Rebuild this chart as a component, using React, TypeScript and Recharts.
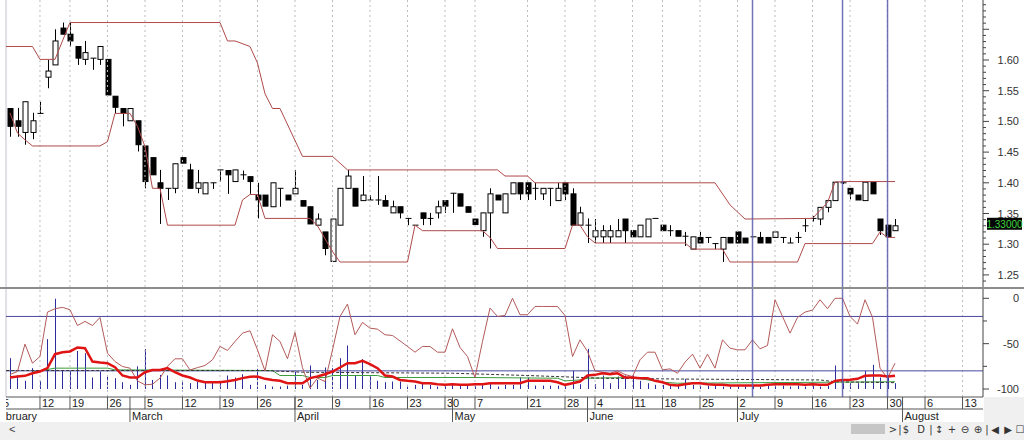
import { Bar, ComposedChart, Line, ReferenceLine, XAxis, YAxis } from 'recharts'

// daily candles, index 0 = first trading day shown (early February)
const OPEN = [
  1.521, 1.501, 1.482, 1.482, 1.513, 1.572, 1.592, 1.652, 1.642, 1.622,
  1.601, 1.603, 1.601, 1.601, 1.541, 1.521, 1.501, 1.501, 1.46, 1.441,
  1.4, 1.391, 1.391, 1.441, 1.421, 1.391, 1.382, 1.4, 1.421, 1.42,
  1.402, 1.413, 1.41, 1.38, 1.38, 1.361, 1.391, 1.38, 1.382, 1.371,
  1.361, 1.331, 1.32, 1.272, 1.331, 1.391, 1.391, 1.371, 1.372, 1.372,
  1.371, 1.351, 1.361, 1.342, 1.331, 1.351, 1.342, 1.351, 1.371, 1.383,
  1.382, 1.361, 1.341, 1.322, 1.351, 1.38, 1.351, 1.382, 1.4, 1.4,
  1.391, 1.382, 1.391, 1.371, 1.4, 1.382, 1.331, 1.331, 1.312, 1.312,
  1.312, 1.312, 1.341, 1.322, 1.312, 1.312, 1.342, 1.331, 1.322, 1.322,
  1.313, 1.292, 1.311, 1.311, 1.301, 1.292, 1.311, 1.32, 1.31, 1.312,
  1.311, 1.311, 1.311, 1.311, 1.302, 1.311, 1.33, 1.342, 1.341, 1.36,
  1.371, 1.4, 1.391, 1.38, 1.371, 1.401, 1.341, 1.331, 1.322,
]
const HIGH = [
  1.521, 1.522, 1.532, 1.514, 1.532, 1.6, 1.65, 1.661, 1.661, 1.622,
  1.631, 1.603, 1.622, 1.601, 1.541, 1.521, 1.521, 1.501, 1.46, 1.441,
  1.421, 1.391, 1.431, 1.441, 1.431, 1.421, 1.4, 1.4, 1.421, 1.42,
  1.421, 1.42, 1.41, 1.4, 1.38, 1.4, 1.391, 1.38, 1.421, 1.371,
  1.361, 1.35, 1.32, 1.341, 1.391, 1.421, 1.391, 1.411, 1.38, 1.411,
  1.38, 1.371, 1.361, 1.342, 1.331, 1.351, 1.351, 1.371, 1.371, 1.383,
  1.382, 1.361, 1.341, 1.351, 1.391, 1.38, 1.382, 1.4, 1.4, 1.4,
  1.4, 1.391, 1.391, 1.4, 1.4, 1.391, 1.361, 1.342, 1.341, 1.331,
  1.331, 1.341, 1.341, 1.322, 1.331, 1.341, 1.342, 1.331, 1.331, 1.322,
  1.32, 1.312, 1.32, 1.311, 1.301, 1.311, 1.311, 1.32, 1.31, 1.312,
  1.32, 1.311, 1.32, 1.311, 1.311, 1.32, 1.341, 1.346, 1.36, 1.371,
  1.401, 1.402, 1.391, 1.38, 1.401, 1.401, 1.341, 1.331, 1.341,
]
const LOW = [
  1.475, 1.475, 1.462, 1.471, 1.513, 1.554, 1.592, 1.642, 1.622, 1.592,
  1.592, 1.584, 1.592, 1.543, 1.513, 1.492, 1.501, 1.451, 1.391, 1.413,
  1.333, 1.372, 1.383, 1.432, 1.391, 1.383, 1.382, 1.39, 1.402, 1.382,
  1.402, 1.405, 1.382, 1.342, 1.362, 1.361, 1.361, 1.372, 1.382, 1.362,
  1.333, 1.331, 1.282, 1.272, 1.331, 1.391, 1.362, 1.371, 1.372, 1.364,
  1.362, 1.351, 1.342, 1.331, 1.331, 1.331, 1.331, 1.342, 1.351, 1.351,
  1.362, 1.352, 1.332, 1.312, 1.293, 1.372, 1.351, 1.382, 1.372, 1.372,
  1.372, 1.372, 1.362, 1.371, 1.372, 1.331, 1.331, 1.302, 1.302, 1.302,
  1.302, 1.312, 1.302, 1.312, 1.312, 1.312, 1.342, 1.322, 1.313, 1.313,
  1.297, 1.292, 1.302, 1.302, 1.292, 1.271, 1.302, 1.302, 1.302, 1.312,
  1.302, 1.302, 1.311, 1.302, 1.302, 1.302, 1.32, 1.337, 1.331, 1.352,
  1.371, 1.398, 1.373, 1.372, 1.371, 1.382, 1.315, 1.312, 1.322,
]
const CLOSE = [
  1.492, 1.492, 1.532, 1.501, 1.513, 1.582, 1.631, 1.642, 1.631, 1.603,
  1.612, 1.603, 1.622, 1.543, 1.523, 1.513, 1.521, 1.462, 1.402, 1.413,
  1.391, 1.391, 1.431, 1.432, 1.391, 1.4, 1.4, 1.4, 1.421, 1.413,
  1.421, 1.413, 1.402, 1.372, 1.362, 1.4, 1.391, 1.372, 1.391, 1.362,
  1.333, 1.341, 1.293, 1.341, 1.391, 1.411, 1.362, 1.38, 1.372, 1.372,
  1.362, 1.361, 1.351, 1.342, 1.331, 1.342, 1.342, 1.361, 1.362, 1.383,
  1.362, 1.352, 1.332, 1.351, 1.382, 1.372, 1.382, 1.4, 1.382, 1.382,
  1.391, 1.391, 1.391, 1.391, 1.382, 1.331, 1.351, 1.331, 1.322, 1.322,
  1.322, 1.322, 1.322, 1.312, 1.331, 1.341, 1.342, 1.322, 1.322, 1.313,
  1.313, 1.312, 1.302, 1.311, 1.301, 1.311, 1.302, 1.302, 1.302, 1.312,
  1.302, 1.302, 1.32, 1.311, 1.302, 1.311, 1.33, 1.342, 1.36, 1.371,
  1.401, 1.4, 1.382, 1.372, 1.401, 1.382, 1.322, 1.312, 1.33,
]
// volume, drawn as sticks up from the -100 line of the lower pane
const VOLUME = [
  34, 15, 9, 23, 9, 55, 99.5, 21, 20, 42,
  39.5, 12.7, 19.3, 15, 12, 7.5, 4.6, 25, 44, 10,
  15.6, 15, 7.5, 7.5, 6.4, 8.2, 8.2, 7.5, 7.5, 14.9,
  12.7, 16.3, 4.6, 22.2, 4.6, 2.7, 2.7, 3.8, 19.3, 4.6,
  25.9, 10, 23.7, 23, 34, 48, 14.9, 33, 14.9, 9,
  7.5, 8.2, 8.2, 4.6, 4.6, 6.4, 4.6, 2.7, 4.6, 4.6,
  3.8, 4.6, 3.8, 6.4, 6.4, 2.7, 4.6, 4.6, 12.7, 12.7,
  3.8, 3.8, 3.8, 3.8, 5.3, 20, 5.3, 44.3, 5.3, 14.9,
  6.4, 13.8, 14.9, 14.9, 9, 6.4, 4.6, 4.6, 3.8, 3.8,
  11.2, 4.6, 3.8, 3.8, 4.6, 2.7, 2.7, 2.7, 3.8, 3.8,
  2.7, 3.8, 3.8, 3.8, 2.7, 3.8, 2.7, 3.8, 2.7, 3.8,
  25.9, 6.4, 6.4, 6.4, 20, 26.6, 12.7, 14.9, 6.4,
]
// thin oscillator line (%R style, 0 .. -100)
const PCT_R = [
  -84, -80.7, -50.5, -71.5, -64.1, -15.2, -11.5, -10, -12.6, -30,
  -25.5, -30, -21.1, -60.5, -69.7, -75.2, -77, -91, -95.4, -94.7,
  -88, -75, -66.7, -66.7, -79, -76.4, -74.1, -67.8, -53.1, -57.5,
  -47.6, -38.4, -35.8, -56.8, -80, -40.2, -47.6, -66.7, -37.6, -76.4,
  -99, -88, -91.7, -57, -20, -6.4, -40.2, -26.6, -32.9, -34,
  -40.2, -41, -46.9, -53.1, -59.4, -53.1, -53.1, -59.4, -59.4, -33.6,
  -54.2, -64.2, -87.3, -47.6, -10.8, -20, -18.9, 0, -18.1, -18.1,
  -9, -9, -9, -9, -18.9, -64.2, -45.8, -58.6, -80, -81.5,
  -82.6, -80, -84, -86.3, -67.8, -59.4, -59.4, -78.9, -77.8, -82.6,
  -70.4, -61.6, -77, -61.6, -77, -45.8, -55, -56.8, -56.8, -45.8,
  -55.7, -52, -1.6, -20, -38.4, -21.1, -15.2, -13, -1.6, -11.5,
  0, 0, -20, -28.4, -1.6, -21.1, -77, -88, -71.5,
]
// thick smoothed line
const SIGNAL = [
  -87.3, -86.2, -85.5, -82.6, -80.7, -77, -61.6, -59.4, -58.6, -54.2,
  -55, -69.7, -70.8, -71.5, -76, -85.1, -87.3, -87.3, -81.5, -79,
  -79, -77, -81.5, -85.1, -87.3, -90.7, -92.5, -92.5, -92.5, -91.4,
  -90, -88, -86.6, -86.2, -88.8, -90, -91, -93.6, -93.6, -93.6,
  -88, -86.2, -83.7, -80.7, -76.3, -71.5, -71.5, -69, -72.6, -77,
  -85.1, -86.2, -90, -91, -91.8, -93.6, -93.6, -94.7, -95.4, -94.7,
  -95.4, -95.4, -94.7, -94.7, -93.6, -93.6, -93.6, -93.6, -93.6, -91,
  -91, -91, -91, -92.5, -95.4, -93.6, -91.8, -85.1, -84.4, -82.6,
  -83.7, -82.6, -87.3, -87.3, -88, -88, -91, -92.5, -95.4, -96.2,
  -94.7, -93.6, -93.6, -94.7, -95.4, -95.4, -96.2, -96.2, -96.2, -96.2,
  -96.2, -95.4, -94.7, -94.7, -94.7, -94.7, -95.4, -94.7, -95.4, -95.4,
  -91, -90, -89.7, -88.8, -85.5, -85.1, -85.1, -86.2, -85.5,
]

// channel and slow averages as [index, value] breakpoints
const UPPER_CHANNEL = [
  [-0.6, 1.622], [3, 1.622], [4, 1.601], [6, 1.601], [8, 1.661], [28, 1.661], [29, 1.631], [30, 1.631],
  [32, 1.622], [33, 1.595], [34, 1.545], [35, 1.521], [36, 1.521], [39, 1.443], [43, 1.443], [45, 1.421],
  [65, 1.421], [66, 1.411], [69, 1.411], [70, 1.4], [94, 1.4], [96, 1.364], [98, 1.341], [107, 1.342],
  [108, 1.355], [109, 1.368], [110, 1.401], [111, 1.402], [118, 1.402],
]
const LOWER_CHANNEL = [
  [0, 1.514], [1, 1.481], [2, 1.47], [3, 1.46], [12, 1.46], [13, 1.467], [14, 1.513], [16, 1.513],
  [17, 1.492], [18, 1.459], [19, 1.391], [20, 1.391], [21, 1.331], [30, 1.331], [31, 1.372], [32, 1.381],
  [33, 1.381], [34, 1.342], [40, 1.342], [41, 1.33], [43, 1.288], [44, 1.271], [53, 1.271], [54, 1.331],
  [55, 1.322], [63, 1.322], [64, 1.311], [65, 1.293], [74, 1.293], [75, 1.331], [76, 1.331], [77, 1.312],
  [78, 1.302], [90, 1.302], [91, 1.292], [95, 1.292], [96, 1.271], [105, 1.271], [106, 1.301], [115, 1.301],
  [116, 1.32], [117, 1.311], [118, 1.311],
]
const GREEN_AVG = [
  [3, -81.4], [6, -77], [13, -77], [14, -78.9], [35, -79.6], [36, -85.1], [39, -85.1], [40, -87.3],
  [42, -87.3], [43, -85.1], [49, -85.1], [50, -87.3], [62, -87.3], [73, -88.1], [74, -91], [76, -90],
  [77, -88.1], [83, -87.3], [87, -92.5], [89, -93.6], [100, -93], [110, -92.5], [118, -92],
]
const DASHED_AVG = [
  [-0.5, -79.6], [34, -79.6], [39, -81.5], [59, -82.6], [69, -85.1], [79, -88.1], [89, -89],
  [108, -90], [110, -92], [118, -93],
]

const DAY_TICKS = [-0.53, 4, 8, 13, 18, 23, 28, 33, 38, 43, 48, 53, 58, 62, 69, 74, 78, 83, 87, 92, 97, 102, 107, 112, 117, 122, 127]
const DAY_LABELS = ['5', '12', '19', '26', '5', '12', '19', '26', '2', '9', '16', '23', '30', '7', '21', '28', '4', '11', '18', '25', '2', '9', '16', '23', '30', '6', '13']
const MONTH_TICKS = [-0.53, 16, 38, 59, 77, 97, 119]
const MONTH_LABELS = ['February', 'March', 'April', 'May', 'June', 'July', 'August']
const MARKERS = [99, 111, 117]
const PRICE_LABELS = [1.25, 1.3, 1.35, 1.4, 1.45, 1.5, 1.55, 1.6]
const OSC_TICKS = [0, -25, -50, -75, -100]
const OSC_LABELS = [0, -50, -100]
const LAST_PRICE = 1.33

const X_MIN = -0.53
const X_MAX = 129.73
const PRICE_MIN = 1.2303
const PRICE_MAX = 1.6977
const OSC_MIN = -108.8
const OSC_MAX = 10.25
const VOL_BASE = -100
const TOP_H = 287
const K = TOP_H / (PRICE_MAX - PRICE_MIN)
const EPS = 0.0004
const FONT = '"Liberation Sans", Arial, sans-serif'

const rows = OPEN.map((open, i) => ({
  i,
  open,
  high: HIGH[i],
  low: LOW[i],
  close: CLOSE[i],
  vol: VOLUME[i],
  pr: PCT_R[i],
  sig: SIGNAL[i],
}))
const pts = (list: number[][]) => list.map(([i, v]) => ({ i, v }))

// minor ticks every 0.01 on the price axis
const PRICE_TICKS = Array.from({ length: 46 }, (_, k) => (124 + k) / 100)

function Candle(props: any) {
  const { x, y, width, height, payload } = props
  if (x == null || !payload) return null
  const cx = Math.round(x + width / 2) + 0.5
  const top = height >= 0 ? y : y + height
  const py = (v: number) => top + (payload.high + EPS - v) * K
  const o = py(payload.open)
  const c = py(payload.close)
  const bTop = Math.min(o, c)
  const bH = Math.abs(o - c)
  return (
    <g>
      <line x1={cx} x2={cx} y1={py(payload.high)} y2={py(payload.low)} stroke="#000" />
      {bH < 1 ? (
        <line x1={cx - 3} x2={cx + 3} y1={o} y2={o} stroke="#000" />
      ) : payload.close > payload.open ? (
        <rect x={cx - 2.5} y={bTop} width={5} height={bH} fill="#fff" stroke="#000" />
      ) : (
        <rect x={cx - 2.5} y={bTop} width={5} height={bH} fill="#000" stroke="#000" />
      )}
    </g>
  )
}

function VolStick(props: any) {
  const { x, y, width, height } = props
  if (x == null) return null
  const cx = Math.round(x + width / 2) + 0.5
  const top = height >= 0 ? y : y + height
  return <line x1={cx} x2={cx} y1={top} y2={top + Math.abs(height)} stroke="#2c2c9e" />
}

function PriceTick({ x, y, payload }: any) {
  const v = Math.round(payload.value * 100) / 100
  const major = Math.round(v * 100) % 5 === 0
  return (
    <g>
      <line x1={x} x2={x + (major ? 6 : 3)} y1={y} y2={y} stroke="#444" />
      {PRICE_LABELS.includes(v) && (
        <text x={x + 36} y={y + 4} textAnchor="end" fontSize={11} fill="#333" fontFamily={FONT}>
          {v.toFixed(2)}
        </text>
      )}
    </g>
  )
}

function OscTick({ x, y, payload }: any) {
  const labeled = OSC_LABELS.includes(payload.value)
  return (
    <g>
      <line x1={x} x2={x + (labeled ? 6 : 4)} y1={y} y2={y} stroke="#444" />
      {labeled && (
        <text x={x + 36} y={y + 4} textAnchor="end" fontSize={11} fill="#333" fontFamily={FONT}>
          {payload.value}
        </text>
      )}
    </g>
  )
}

function DayTick({ x, y, payload }: any) {
  const k = DAY_TICKS.indexOf(payload.value)
  const label = DAY_LABELS[k]
  if (k === 0) {
    return (
      <svg x={x} y={y} width={12} height={12}>
        <text x={-3} y={10} fontSize={11} fill="#222" fontFamily={FONT}>{label}</text>
      </svg>
    )
  }
  return (
    <g>
      <line x1={x} x2={x} y1={y} y2={y + 12} stroke="#555" />
      <text x={x + 2} y={y + 10} fontSize={11} fill="#222" fontFamily={FONT}>{label}</text>
    </g>
  )
}

function MonthTick({ x, y, payload }: any) {
  const k = MONTH_TICKS.indexOf(payload.value)
  const label = MONTH_LABELS[k]
  if (k === 0) {
    return (
      <svg x={x} y={y} width={60} height={13}>
        <text x={-13} y={11} fontSize={11} fill="#222" fontFamily={FONT}>{label}</text>
      </svg>
    )
  }
  return (
    <g>
      <line x1={x} x2={x} y1={y - 12} y2={y + 13} stroke="#555" />
      <text x={x + 2} y={y + 11} fontSize={11} fill="#222" fontFamily={FONT}>{label}</text>
    </g>
  )
}

function PriceBox({ viewBox }: any) {
  if (!viewBox) return null
  const x = viewBox.x + viewBox.width + 4
  const y = viewBox.y - 2
  return (
    <g>
      <rect x={x} y={y - 6} width={35} height={12} fill="#050505" />
      <text x={x + 17.5} y={y + 4} textAnchor="middle" fontSize={10} fill="#3fd23f" fontFamily={FONT}>
        {LAST_PRICE.toFixed(5)}
      </text>
    </g>
  )
}

const TOOLBAR = [
  ['>', 893], ['|', 900], ['$', 906], ['D', 921], ['|', 931], ['↕', 939], ['+', 952],
  ['⊖', 965], ['⊕', 978], ['|', 987], ['◀', 995], ['▶', 1008], ['☐', 1020],
] as const

export default function App() {
  return (
    <div style={{ position: 'absolute', left: 0, top: 0, width: 1024, height: 440, background: '#fff', overflow: 'hidden' }}>
      <ComposedChart width={1024} height={TOP_H} data={rows} margin={{ top: 0, right: 0, bottom: 0, left: 6 }}>
        <XAxis dataKey="i" type="number" domain={[X_MIN, X_MAX]} allowDataOverflow hide />
        <YAxis
          orientation="right"
          width={41}
          domain={[PRICE_MIN, PRICE_MAX]}
          allowDataOverflow
          ticks={PRICE_TICKS}
          interval={0}
          tickSize={0}
          tickMargin={0}
          tickLine={false}
          axisLine={{ stroke: '#444' }}
          tick={(p: any) => <PriceTick {...p} />}
        />
        <ReferenceLine x={X_MIN} stroke="#c4c4cc" />
        {DAY_TICKS.slice(1).map((t) => (
          <ReferenceLine key={t} x={t} stroke="#bdbdbd" strokeDasharray="2 3" />
        ))}
        <Bar dataKey={(d: any) => [d.low - EPS, d.high + EPS]} shape={<Candle />} isAnimationActive={false} />
        <Line data={pts(UPPER_CHANNEL)} dataKey="v" type="linear" stroke="#b04a4a" strokeWidth={1} dot={false} isAnimationActive={false} />
        <Line data={pts(LOWER_CHANNEL)} dataKey="v" type="linear" stroke="#b04a4a" strokeWidth={1} dot={false} isAnimationActive={false} />
        {MARKERS.map((m) => (
          <ReferenceLine key={m} x={m} stroke="#5a5aae" strokeWidth={1.5} strokeOpacity={0.85} />
        ))}
        <ReferenceLine y={LAST_PRICE} stroke="none" label={<PriceBox />} />
      </ComposedChart>

      <div style={{ position: 'absolute', left: 0, top: 287, width: 1024, height: 2, background: '#8c8c8c' }} />

      <div style={{ position: 'absolute', left: 0, top: 289 }}>
        <ComposedChart width={1024} height={133} data={rows} margin={{ top: 0, right: 0, bottom: 0, left: 6 }}>
          <XAxis
            xAxisId="d"
            dataKey="i"
            type="number"
            domain={[X_MIN, X_MAX]}
            allowDataOverflow
            ticks={DAY_TICKS}
            interval={0}
            height={12}
            tickSize={0}
            tickMargin={0}
            tickLine={false}
            axisLine={{ stroke: '#555' }}
            tick={(p: any) => <DayTick {...p} />}
          />
          <XAxis
            xAxisId="m"
            dataKey="i"
            type="number"
            domain={[X_MIN, X_MAX]}
            allowDataOverflow
            ticks={MONTH_TICKS}
            interval={0}
            height={13}
            tickSize={0}
            tickMargin={0}
            tickLine={false}
            axisLine={{ stroke: '#555' }}
            tick={(p: any) => <MonthTick {...p} />}
          />
          <YAxis
            orientation="right"
            width={41}
            domain={[OSC_MIN, OSC_MAX]}
            allowDataOverflow
            ticks={OSC_TICKS}
            interval={0}
            tickSize={0}
            tickMargin={0}
            tickLine={false}
            axisLine={{ stroke: '#444' }}
            tick={(p: any) => <OscTick {...p} />}
          />
          <ReferenceLine xAxisId="d" x={X_MIN} stroke="#c4c4cc" />
          {DAY_TICKS.slice(1).map((t) => (
            <ReferenceLine key={t} xAxisId="d" x={t} stroke="#bdbdbd" strokeDasharray="2 3" />
          ))}
          <ReferenceLine xAxisId="d" y={-20} stroke="#4848a2" />
          <ReferenceLine xAxisId="d" y={-80} stroke="#4848a2" />
          <Bar xAxisId="d" dataKey={(d: any) => [VOL_BASE, VOL_BASE + d.vol]} shape={<VolStick />} isAnimationActive={false} />
          <Line xAxisId="d" data={pts(GREEN_AVG)} dataKey="v" type="linear" stroke="#3c9c3c" strokeWidth={1} dot={false} isAnimationActive={false} />
          <Line xAxisId="d" data={pts(DASHED_AVG)} dataKey="v" type="linear" stroke="#333" strokeWidth={1} strokeDasharray="3 2" dot={false} isAnimationActive={false} />
          <Line xAxisId="d" dataKey="pr" type="linear" stroke="#b45a5a" strokeWidth={1} dot={false} isAnimationActive={false} />
          <Line xAxisId="d" dataKey="sig" type="linear" stroke="#e01414" strokeWidth={2.5} dot={false} isAnimationActive={false} />
          {MARKERS.map((m) => (
            <ReferenceLine key={m} xAxisId="d" x={m} stroke="#5a5aae" strokeWidth={1.5} strokeOpacity={0.85} />
          ))}
        </ComposedChart>
      </div>

      <div style={{ position: 'absolute', left: 984, top: 397, width: 40, height: 25, background: '#f0f0f0' }} />

      <svg style={{ position: 'absolute', left: 0, top: 422 }} width={1024} height={18}>
        <rect width={1024} height={18} fill="#f0f0f0" />
        <text x={9} y={11} fontSize={11} fill="#444" fontFamily={FONT}>{'<'}</text>
        <rect x={851} y={2} width={34} height={10} fill="#c6c6c6" />
        {TOOLBAR.map(([s, x]) => (
          <text key={x} x={x} y={11} textAnchor="middle" fontSize={10} fill="#333" fontFamily='"DejaVu Sans", sans-serif'>
            {s}
          </text>
        ))}
      </svg>
    </div>
  )
}
